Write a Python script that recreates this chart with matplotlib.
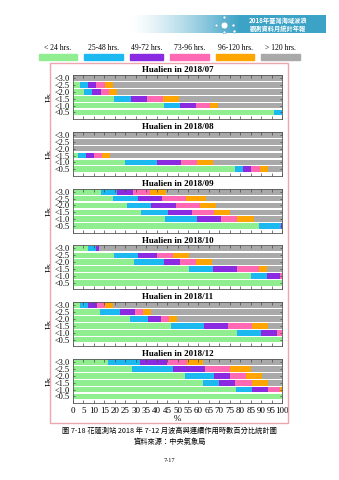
import numpy as np
import matplotlib
matplotlib.use("Agg")
import matplotlib.pyplot as plt
from matplotlib.patches import Rectangle

plt.rcParams["font.family"] = ["Liberation Serif", "Noto Sans CJK TC"]

hs_labels = ["<3.0", "<2.5", "<2.0", "<1.5", "<1.0", "<0.5"]
durations = ["< 24 hrs.", "25-48 hrs.", "49-72 hrs.", "73-96 hrs.", "96-120 hrs.", "> 120 hrs."]
colors = ["#90ee90", "#1cb8f0", "#8a2be2", "#ff69b4", "#ffa500", "#a9a9a9"]
months = ["2018/07", "2018/08", "2018/09", "2018/10", "2018/11", "2018/12"]

# percent per duration class, rows from <3.0 down to <0.5
jul = [[0, 0, 0, 0, 0, 100],
       [3.3, 3.9, 4.0, 4.0, 3.8, 81.0],
       [5.4, 3.9, 3.9, 3.9, 3.8, 79.1],
       [19.6, 8.0, 7.8, 7.7, 7.8, 49.1],
       [43.5, 7.5, 7.9, 6.7, 3.9, 30.5],
       [96.2, 3.8, 0, 0, 0, 0]]
aug = [[0, 0, 0, 0, 0, 100],
       [0, 0, 0, 0, 0, 100],
       [0, 0, 0, 0, 0, 100],
       [2.4, 3.8, 4.0, 3.7, 4.0, 82.1],
       [24.9, 15.5, 11.3, 7.6, 7.8, 32.9],
       [77.7, 3.8, 3.8, 4.0, 3.8, 6.9]]
sep = [[13.4, 7.7, 7.8, 7.8, 7.6, 55.7],
       [19.3, 11.6, 11.7, 11.5, 9.5, 36.4],
       [25.8, 11.7, 11.6, 11.5, 7.8, 31.6],
       [32.7, 12.8, 11.4, 10.4, 7.8, 24.9],
       [44.0, 15.5, 11.3, 7.8, 7.8, 13.6],
       [89.0, 10.5, 0.5, 0, 0, 0]]
oct_ = [[7.0, 4.0, 1.4, 0, 0, 87.6],
        [19.6, 11.5, 9.1, 7.6, 7.9, 44.3],
        [29.3, 14.1, 7.8, 7.7, 7.6, 33.5],
        [55.3, 11.7, 11.6, 10.4, 4.0, 7.0],
        [85.2, 7.8, 6.2, 0.8, 0, 0],
        [100, 0, 0, 0, 0, 0]]
nov = [[3.3, 3.9, 4.1, 3.9, 3.8, 81.0],
       [12.9, 9.4, 7.2, 3.8, 4.0, 62.7],
       [27.1, 8.6, 6.2, 4.0, 3.9, 50.2],
       [46.9, 15.8, 11.5, 11.4, 7.9, 6.5],
       [78.5, 11.3, 7.8, 2.4, 0, 0],
       [100, 0, 0, 0, 0, 0]]
dec = [[16.6, 15.6, 12.8, 9.5, 7.9, 37.6],
       [28.2, 19.5, 15.5, 11.9, 10.2, 14.7],
       [53.6, 13.9, 7.6, 7.7, 7.8, 9.4],
       [62.4, 7.6, 7.7, 7.8, 7.6, 6.9],
       [78.0, 7.8, 7.7, 5.5, 1.0, 0],
       [100, 0, 0, 0, 0, 0]]
all_data = [jul, aug, sep, oct_, nov, dec]

W, H = 339, 480
fig = plt.figure(figsize=(W / 100, H / 100), dpi=100)

def fx(px):
    return px / W

def fy(py):
    return 1 - py / H

# header banner
bax = fig.add_axes([fx(110), fy(33), fx(216), 18 / H])
grad = np.linspace(0, 1, 256)
c0 = np.array([1, 1, 1])
c1 = np.array([0.24, 0.64, 0.78])
t = np.clip((grad - 0.1) / 0.5, 0, 1)[:, None] ** 1.3
img = (c0 * (1 - t) + c1 * t)[None, :, :]
bax.imshow(img, aspect="auto", extent=[0, 1, 0, 1])
for cx, cy in [(0.49, 0.45), (0.53, 0.88), (0.57, 0.45), (0.53, 0.08), (0.575, 0.1)]:
    bax.plot(cx, cy, "o", ms=2.2, color="white", mec="#5aaac8", mew=0.5)
bax.plot(0.53, 0.45, "o", ms=5, color="white", mec="#5aaac8", mew=0.5)
bax.set_xlim(0, 1)
bax.set_ylim(0, 1)
bax.axis("off")
fig.text(fx(278), fy(20), "2018年臺灣海域波浪", color="white", fontsize=4.5,
         ha="center", va="center", family=["Noto Sans CJK TC"], weight="bold")
fig.text(fx(278), fy(28), "觀測資料月統計年報", color="white", fontsize=4.5,
         ha="center", va="center", family=["Noto Sans CJK TC"], weight="bold")

# legend
leg_x = [39, 84, 130, 170, 216, 261]
leg_w = [38, 39, 33, 39, 38, 39]
for x0, w, c, lab in zip(leg_x, leg_w, colors, durations):
    fig.patches.append(Rectangle((fx(x0), fy(60)), fx(w), 6 / H, color=c,
                                 transform=fig.transFigure, figure=fig))
    fig.text(fx(x0 + w / 2), fy(48), lab, fontsize=5.5, ha="center", va="center")

# pink frame
fig.patches.append(Rectangle((fx(50), fy(423)), fx(238), (423 - 62.5) / H,
                             fill=False, edgecolor="#eba7ad", lw=1,
                             transform=fig.transFigure, figure=fig))

ypos = np.arange(6)[::-1]
for i, (m, rows) in enumerate(zip(months, all_data)):
    top = 75 + i * 56.8
    ax = fig.add_axes([fx(73), fy(top + 44), fx(209), 44 / H])
    arr = np.array(rows)
    left = np.zeros(6)
    for k in range(6):
        ax.barh(ypos, arr[:, k], left=left, height=0.82, color=colors[k], lw=0)
        left += arr[:, k]
    ax.set_xlim(0, 100)
    ax.set_ylim(-0.95, 5.45)
    ax.set_yticks(ypos)
    ax.set_yticklabels(hs_labels, fontsize=6)
    ax.set_xticks(np.arange(0, 101, 5))
    ax.tick_params(axis="x", direction="in", top=True, length=2.5, width=0.5,
                   color="#444444", labelsize=6.5, pad=3)
    ax.tick_params(axis="y", direction="in", right=True, length=1.5, width=0.5,
                   color="#444444", pad=2)
    if i < 5:
        ax.set_xticklabels([])
    else:
        ax.set_xlabel("%", fontsize=6.5, labelpad=0)
    ax.set_ylabel("Hs", fontsize=6.5, labelpad=1)
    for s in ax.spines.values():
        s.set_color("#555555")
        s.set_linewidth(0.6)
    ax.set_title("Hualien in " + m, fontsize=6.5, weight="bold", pad=2)

# caption
cap_font = ["Noto Sans CJK TC"]
fig.text(0.5, fy(431), "圖 7-18 花蓮測站 2018 年 7-12 月波高與連續作用時數百分比統計圖",
         fontsize=5.2, ha="center", va="center", family=cap_font)
fig.text(0.5, fy(442), "資料來源：中央氣象局", fontsize=5.2, ha="center",
         va="center", family=cap_font)
fig.text(0.5, fy(461), "7-17", fontsize=4.5, ha="center", va="center")

fig.savefig("out.png", dpi=100)
